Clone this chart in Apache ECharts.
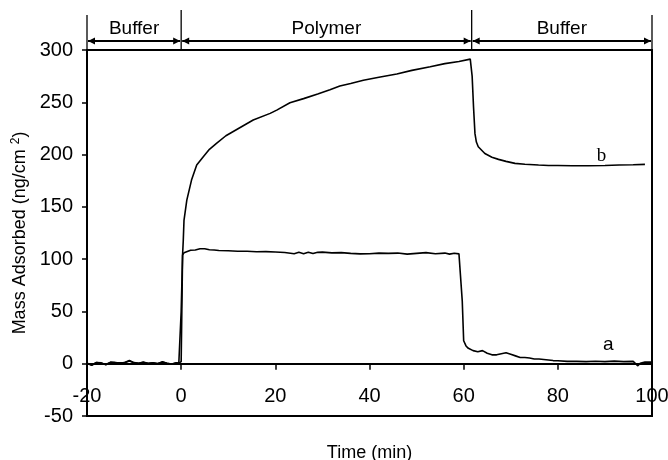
<!DOCTYPE html>
<html>
<head>
<meta charset="utf-8">
<script src="https://cdn.jsdelivr.net/npm/echarts@6/dist/echarts.min.js"></script>
<style>
  html, body { margin: 0; padding: 0; background: #fff; }
  #chart { width: 668px; height: 460px; }
</style>
</head>
<body>
<div id="chart"></div>
<script>
// Time axis (min) and mass adsorbed (ng/cm2) for the two adsorption traces
const timeA = [-20, -19, -18, -17, -16, -15, -14, -13, -12, -11, -10, -9, -8, -7, -6, -5, -4, -3, -2, -1, -0.5,
  -0.2, 0, 0.3, 0.6, 1, 2, 3, 4, 5, 6, 7, 8, 10, 12, 14, 16, 18, 20, 22, 24, 25, 26, 27, 28, 29, 30,
  32, 34, 36, 38, 40, 42, 44, 46, 48, 50, 52, 54, 56, 57, 58, 59, 59.4, 59.7, 60, 60.5, 61, 62, 63, 64,
  65, 66, 67, 68, 69, 70, 71, 72, 73, 74, 75, 76, 77, 78, 79, 80, 82, 84, 86, 88, 90, 92, 94, 96, 97,
  97.5, 98.5, 100];
const massA = [0.5, -1.5, 1.2, 0.8, -1.0, 1.5, 1.0, 0.8, 1.2, 3.0, 1.0, 0.5, 1.5, 0.2, 1.0, 0.0, 1.8, 0.5, -0.5, 1.0, 0.5,
  2, 50, 104, 106, 107, 108.5, 108.8, 110, 110, 109, 108.7, 108.2, 108, 107.5, 107.5, 107, 107.2, 106.8, 106.3, 105.2, 106.5, 105.2, 106.6, 105.3, 106.5, 106.7,
  106.0, 106.2, 105.5, 105.0, 105.2, 105.8, 105.5, 105.8, 104.8, 105.5, 106.2, 105.2, 105.8, 104.8, 105.6, 105, 104, 60, 22, 17, 14.7, 12.5, 11.5, 12.5,
  10, 8.5, 8.5, 9.5, 10.5, 9, 7.5, 6, 6, 5.5, 4.5, 4.5, 4, 3.5, 3, 2.8, 2.2, 2.2, 2, 2.3, 2, 2.5, 2, 2.2, -2,
  0.5, 1.5, 1.5];

const timeB = [-20, -19, -18, -17, -16, -15, -14, -13, -12, -11, -10, -9, -8, -7, -6, -5, -4, -3, -2, -1, -0.5,
  0, 0.3, 0.45, 0.6, 1.2, 2.2, 3.3, 4.7, 6, 7.5, 9.5, 11.8, 15.3, 18.9, 20.3, 23.1, 26, 29, 31.6, 33.7, 36,
  38.7, 42, 45.8, 49, 52.9, 56, 59, 61.4, 61.8, 62.1, 62.4, 62.7, 63.1, 64.5, 66, 67.4, 69, 70.9, 73,
  75.9, 78, 80, 83, 86.5, 90, 93, 96, 98.5];
const massB = [0.5, -1.2, 1.0, 0.6, -0.8, 1.2, 1.0, 0.6, 1.0, 2.6, 0.8, 0.5, 1.3, 0.3, 0.8, 0.2, 1.5, 0.5, -0.3, 0.8, 0.5,
  2, 104, 118, 137, 156.5, 175.6, 190, 198, 205, 210.7, 218, 224, 233, 239.4, 242.5, 249.5, 253.5, 258, 262, 265.5, 268,
  271, 274, 277, 280.5, 284, 287, 289, 291.3, 275, 245, 220, 212, 207.5, 201, 197.5, 195.4, 193.5, 191.6, 190.8,
  190, 189.5, 189.5, 189.3, 189.3, 189.6, 190, 190.3, 190.6];

// Experiment phases along the time axis
const phaseStart = [-20, 0, 61.7];
const phaseEnd = [0, 61.7, 100];
const phaseLabel = ['Buffer', 'Polymer', 'Buffer'];

// Trace labels and where they sit
const traceNames = ['a', 'b'];
const traceLabelAt = [[90.7, 18], [89.3, 199]];

const xTicks = { min: -20, max: 100, step: 20 };
const yTicks = { min: -50, max: 300, step: 50 };

const zip = (t, v) => t.map((x, i) => [x, v[i]]);
const FONT = "Arial, 'Liberation Sans', sans-serif";
const SERIF = "'Times New Roman', 'Liberation Serif', serif";
const traceFonts = [FONT, SERIF];

const chart = echarts.init(document.getElementById('chart'), null, { renderer: 'canvas' });

function renderPhase(params, api) {
  const i = params.dataIndex;
  const x0 = api.coord([api.value(0), yTicks.max])[0];
  const x1 = api.coord([api.value(1), yTicks.max])[0];
  const top = api.coord([0, yTicks.max])[1];
  const ay = top - 9;
  const stroke = { stroke: '#000', lineWidth: 1.3 };
  const children = [
    { type: 'line', shape: { x1: x0 + 1, y1: ay, x2: x1 - 1, y2: ay }, style: { stroke: '#000', lineWidth: 2 } },
    { type: 'polygon', shape: { points: [[x0 + 1, ay], [x0 + 8, ay - 3.5], [x0 + 8, ay + 3.5]] }, style: { fill: '#000' } },
    { type: 'polygon', shape: { points: [[x1 - 1, ay], [x1 - 8, ay - 3.5], [x1 - 8, ay + 3.5]] }, style: { fill: '#000' } },
    { type: 'line', shape: { x1: x0, y1: i === 0 ? top - 35 : top - 40, x2: x0, y2: top }, style: stroke },
    { type: 'text', style: { text: phaseLabel[i], x: (x0 + x1) / 2, y: top - 21, align: 'center', verticalAlign: 'middle',
      font: '19px ' + FONT, fill: '#000' } }
  ];
  if (i === phaseStart.length - 1) {
    children.push({ type: 'line', shape: { x1: x1, y1: top - 35, x2: x1, y2: top }, style: stroke });
  }
  return { type: 'group', children };
}

// Letters naming each trace, drawn next to its tail
function renderTraceName(params, api) {
  const k = params.dataIndex;
  const p = api.coord([api.value(0), api.value(1)]);
  return { type: 'text', style: { text: traceNames[k], x: p[0], y: p[1], align: 'center', verticalAlign: 'middle',
    font: '19px ' + traceFonts[k], fill: '#000' } };
}

chart.setOption({
  animation: false,
  grid: { left: 87, right: 16, top: 50, bottom: 44, containLabel: false, outerBoundsMode: 'none',
    show: true, borderColor: '#000', borderWidth: 2, backgroundColor: 'transparent' },
  xAxis: {
    type: 'value', min: xTicks.min, max: xTicks.max, interval: xTicks.step,
    axisLine: { onZero: true, lineStyle: { color: '#000', width: 2 } },
    axisTick: { show: true, length: 6, lineStyle: { color: '#000', width: 1.5 } },
    // labels sit between the zero line and the lower frame edge
    axisLabel: { margin: -30, color: '#000', fontSize: 20, fontFamily: FONT },
    splitLine: { show: false },
    name: 'Time (min)', nameLocation: 'middle', nameGap: 28,
    nameTextStyle: { color: '#000', fontSize: 18, fontFamily: FONT }
  },
  yAxis: {
    type: 'value', min: yTicks.min, max: yTicks.max, interval: yTicks.step,
    axisLine: { show: true, onZero: false, lineStyle: { color: '#000', width: 2 } },
    axisTick: { show: true, length: 5, lineStyle: { color: '#000', width: 1.5 } },
    axisLabel: { margin: 14, color: '#000', fontSize: 20, fontFamily: FONT },
    splitLine: { show: false },
    name: 'Mass Adsorbed (ng/cm {sup|2})', nameLocation: 'middle', nameGap: 53,
    nameTextStyle: { color: '#000', fontSize: 18, fontFamily: FONT,
      rich: { sup: { fontSize: 12, fontFamily: FONT, color: '#000', verticalAlign: 'top', padding: [0, 0, 8, 0] } } }
  },
  series: [
    { type: 'line', name: 'a', data: zip(timeA, massA), showSymbol: false, lineStyle: { color: '#000', width: 1.6 } },
    { type: 'line', name: 'b', data: zip(timeB, massB), showSymbol: false, lineStyle: { color: '#000', width: 1.6 } },
    { type: 'custom', name: 'traceNames', coordinateSystem: 'cartesian2d', silent: true,
      renderItem: renderTraceName, data: traceLabelAt },
    { type: 'custom', name: 'phases', coordinateSystem: 'cartesian2d', clip: false, silent: true,
      renderItem: renderPhase, encode: { x: [0, 1], y: 2 },
      data: phaseStart.map((s, i) => [s, phaseEnd[i], 0]) }
  ]
});
</script>
</body>
</html>
